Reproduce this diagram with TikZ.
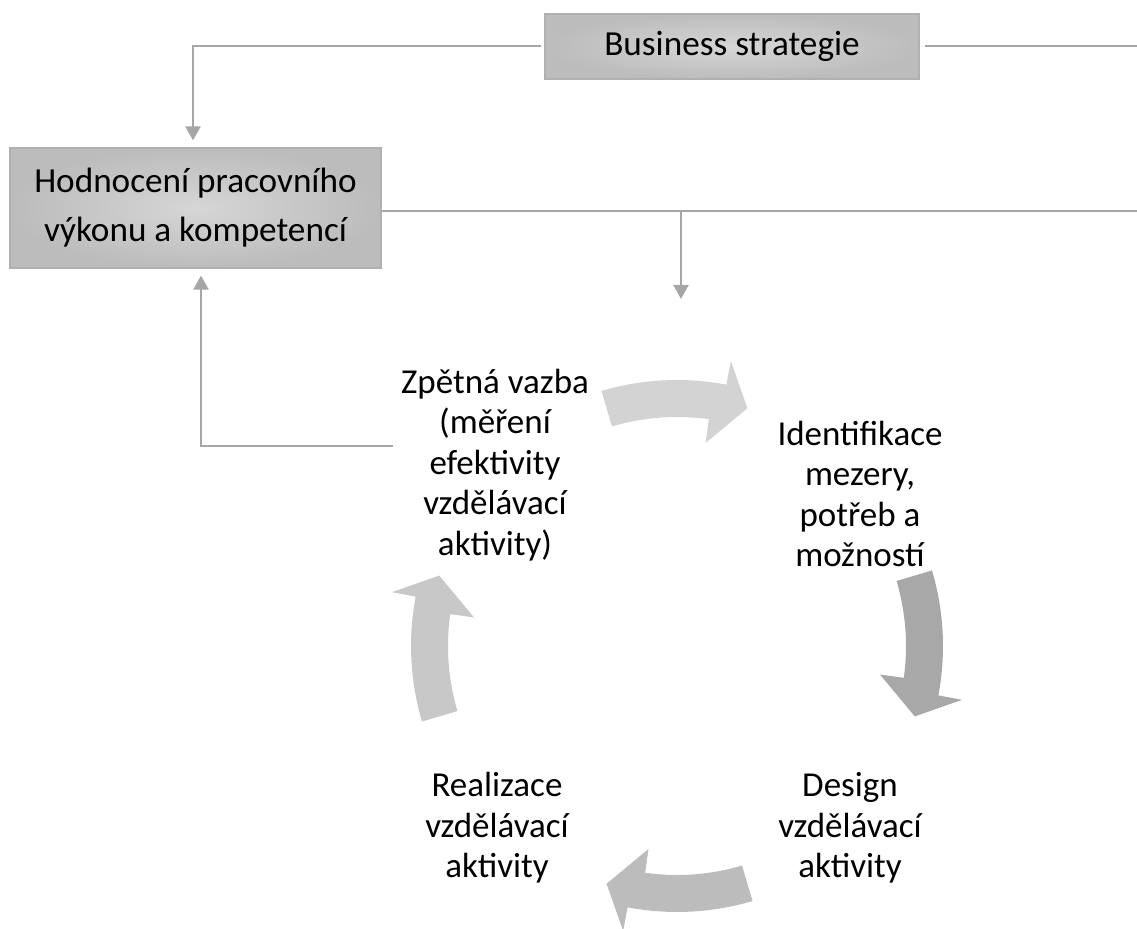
\documentclass[tikz,border=0pt]{standalone}
\usepackage{fontspec}
\setmainfont{Carlito}
\usetikzlibrary{arrows.meta}
\definecolor{linegray}{HTML}{A6A6A6}
\definecolor{boxedge}{HTML}{B0B0B0}
\definecolor{boxin}{HTML}{D6D6D6}
\definecolor{boxout}{HTML}{BCBCBC}
\definecolor{arrtop}{HTML}{D3D3D3}
\definecolor{arrright}{HTML}{A8A8A8}
\definecolor{arrbottom}{HTML}{BCBCBC}
\definecolor{arrleft}{HTML}{C8C8C8}
\newcommand{\cycarrow}[2]{%
  \fill[#2] (#1+16.5:266) arc[start angle=#1+16.5, end angle=#1-10.7, radius=266]
    -- (#1-10.7:290) -- (#1-16.5:248) -- (#1-8:205) -- (#1-8:229)
    arc[start angle=#1-8, end angle=#1+16.5, radius=229] -- cycle;}
\begin{document}
\begin{tikzpicture}[x=0.5pt,y=-0.5pt,
  conn/.style={draw=linegray, line width=1pt},
  arr/.style={conn, -{Triangle[width=7.5pt,length=7pt]}},
  graybox/.style={draw=boxedge, line width=0.6pt, inner color=boxin, outer color=boxout,
    align=center, inner sep=0pt, font=\fontsize{17.6}{24.5}\selectfont},
  cyc/.style={align=center, inner sep=0pt, font=\fontsize{17.5}{20.25}\selectfont}]
\useasboundingbox (0,0) rectangle (1137,929);

% boxes
\node[graybox, minimum width=187pt, minimum height=32.5pt] (bs) at (732,46.5) {Business strategie};
\node[graybox, minimum width=185.5pt, minimum height=60pt] (hod) at (195.5,208) {Hodnocení pracovního\\výkonu a kompetencí};

% cycle texts
\node[cyc] (zpet) at (495,465) {Zpětná vazba\\(měření\\efektivity\\vzdělávací\\aktivity)};
\node[cyc] (ident) at (860,494) {Identifikace\\mezery,\\potřeb a\\možností};
\node[cyc] (design) at (850,828) {Design\\vzdělávací\\aktivity};
\node[cyc] (real) at (497,828) {Realizace\\vzdělávací\\aktivity};

% cycle arrows
\begin{scope}[shift={(677,646)}, yscale=-1]
  \cycarrow{90}{arrtop}
  \cycarrow{0}{arrright}
  \cycarrow{-90}{arrbottom}
  \cycarrow{180}{arrleft}
\end{scope}

% connectors
\coordinate (bsR) at (1137,46.5);
\coordinate (hodR) at (1137,211);
\coordinate (cycTop) at (681,299);
\coordinate (fbL) at (393,446);
\draw[arr, shorten >=3.5pt] ([xshift=-1.5pt]bs.west) -| ([xshift=-1.25pt]hod.north);
\draw[conn] ([xshift=2.5pt]bs.east) -- (bsR);
\draw[conn] ([yshift=-1.5pt]hod.east) -- (hodR);
\draw[arr] (cycTop |- hodR) -- (cycTop);
\draw[arr, shorten >=3.5pt] (fbL) -| ([xshift=2.75pt]hod.south);
\end{tikzpicture}
\end{document}
